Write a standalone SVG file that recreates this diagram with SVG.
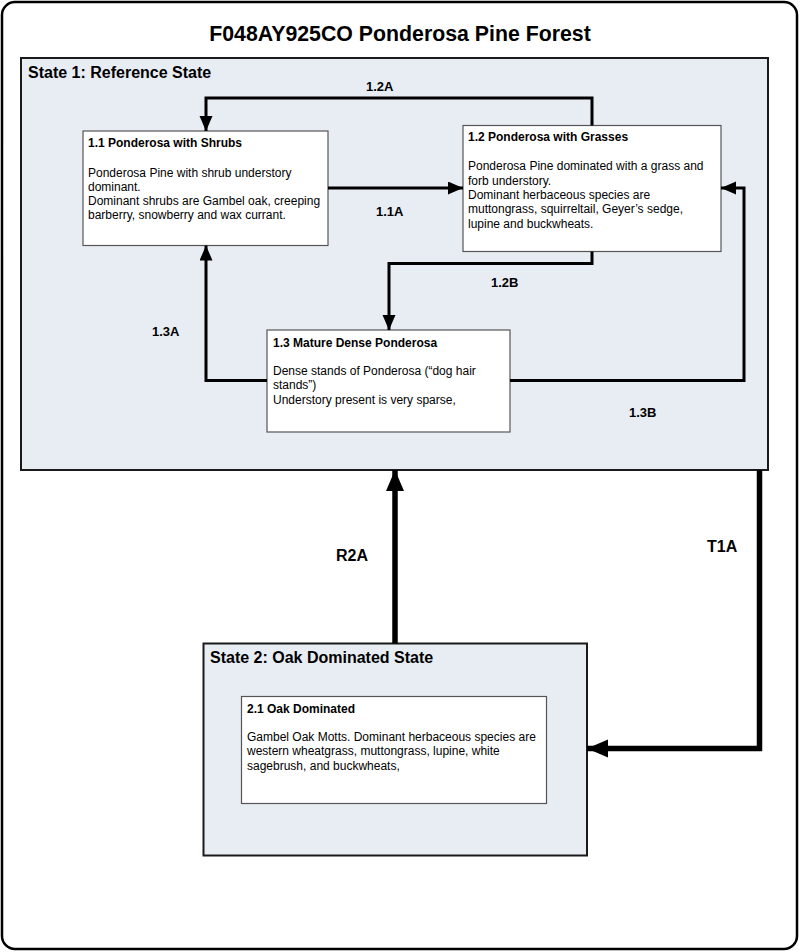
<svg xmlns="http://www.w3.org/2000/svg" width="800" height="952" viewBox="0 0 800 952">
<style>
.bg{fill:#ffffff}
.frame{fill:#ffffff;stroke:#000;stroke-width:2.5}
.state{fill:#e8edf4;stroke:#1a1a1a;stroke-width:2}
.node{fill:#ffffff;stroke:#555;stroke-width:1.2}
text{font-family:"Liberation Sans",Arial,sans-serif;fill:#000}
.title{font-size:21.3px;font-weight:bold}
.stitle{font-size:16px;font-weight:bold}
.ntitle{font-size:12px;font-weight:bold}
.body{font-size:12px}
.lbl{font-size:13px;font-weight:bold}
.lbl2{font-size:16px;font-weight:bold}
.c{fill:none;stroke:#000;stroke-width:3}
.c2{fill:none;stroke:#000;stroke-width:5.5}
</style>
<defs>
<marker id="ah" markerUnits="userSpaceOnUse" markerWidth="16" markerHeight="14" refX="15" refY="6.5" orient="auto">
<path d="M0,0 L15,6.5 L0,13 Z" fill="#000"/>
</marker>
<marker id="ah2" markerUnits="userSpaceOnUse" markerWidth="22" markerHeight="20" refX="21" refY="9" orient="auto">
<path d="M0,0 L21,9 L0,18 Z" fill="#000"/>
</marker>
</defs>
<rect class="bg" x="0" y="0" width="800" height="952"/>
<rect class="frame" x="2" y="2" width="795" height="947" rx="13" ry="13"/>
<text class="title" x="400" y="41" text-anchor="middle">F048AY925CO Ponderosa Pine Forest</text>

<g id="state1">
<rect class="state" x="21" y="58" width="747" height="412"/>
<text class="stitle" x="28" y="78">State 1: Reference State</text>
</g>

<g id="state2">
<rect class="state" x="203.5" y="643.5" width="383.5" height="212"/>
<text class="stitle" x="210" y="663">State 2: Oak Dominated State</text>
</g>

<g id="node-1-1">
<rect class="node" x="83" y="131" width="245" height="114.5"/>
<text class="ntitle" x="88" y="147">1.1 Ponderosa with Shrubs</text>
<text class="body" x="88" y="177">Ponderosa Pine with shrub understory</text>
<text class="body" x="88" y="191">dominant.</text>
<text class="body" x="88" y="205">Dominant shrubs are Gambel oak, creeping</text>
<text class="body" x="88" y="219">barberry, snowberry and wax currant.</text>
</g>

<g id="node-1-2">
<rect class="node" x="463" y="125.5" width="258" height="126"/>
<text class="ntitle" x="468" y="141">1.2 Ponderosa with Grasses</text>
<text class="body" x="468" y="170">Ponderosa Pine dominated with a grass and</text>
<text class="body" x="468" y="185">forb understory.</text>
<text class="body" x="468" y="199">Dominant herbaceous species are</text>
<text class="body" x="468" y="213">muttongrass, squirreltail, Geyer’s sedge,</text>
<text class="body" x="468" y="228">lupine and buckwheats.</text>
</g>

<g id="node-1-3">
<rect class="node" x="267" y="330" width="243" height="102"/>
<text class="ntitle" x="273" y="347">1.3 Mature Dense Ponderosa</text>
<text class="body" x="273" y="375">Dense stands of Ponderosa (“dog hair</text>
<text class="body" x="273" y="389">stands”)</text>
<text class="body" x="273" y="404">Understory present is very sparse,</text>
</g>

<g id="node-2-1">
<rect class="node" x="241.5" y="696.5" width="305" height="107"/>
<text class="ntitle" x="247" y="713">2.1 Oak Dominated</text>
<text class="body" x="247" y="741">Gambel Oak Motts. Dominant herbaceous species are</text>
<text class="body" x="247" y="755">western wheatgrass, muttongrass, lupine, white</text>
<text class="body" x="247" y="770">sagebrush, and buckwheats,</text>
</g>

<g id="connectors">
<path class="c" d="M592,125.5 V98 H206 V131" marker-end="url(#ah)"/>
<path class="c" d="M328,188 H463" marker-end="url(#ah)"/>
<path class="c" d="M592,251.5 V263.5 H389 V330" marker-end="url(#ah)"/>
<path class="c" d="M267,380.5 H206 V245.5" marker-end="url(#ah)"/>
<path class="c" d="M510,380.5 H744 V188 H721" marker-end="url(#ah)"/>
<path class="c2" d="M395,643.5 V470" marker-end="url(#ah2)"/>
<path class="c2" d="M759.5,470 V748.5 H587" marker-end="url(#ah2)"/>
<text class="lbl" x="366" y="91">1.2A</text>
<text class="lbl" x="376" y="216">1.1A</text>
<text class="lbl" x="491" y="287">1.2B</text>
<text class="lbl" x="152" y="336">1.3A</text>
<text class="lbl" x="629" y="417">1.3B</text>
<text class="lbl2" x="336" y="561">R2A</text>
<text class="lbl2" x="707" y="552">T1A</text>
</g>
</svg>
